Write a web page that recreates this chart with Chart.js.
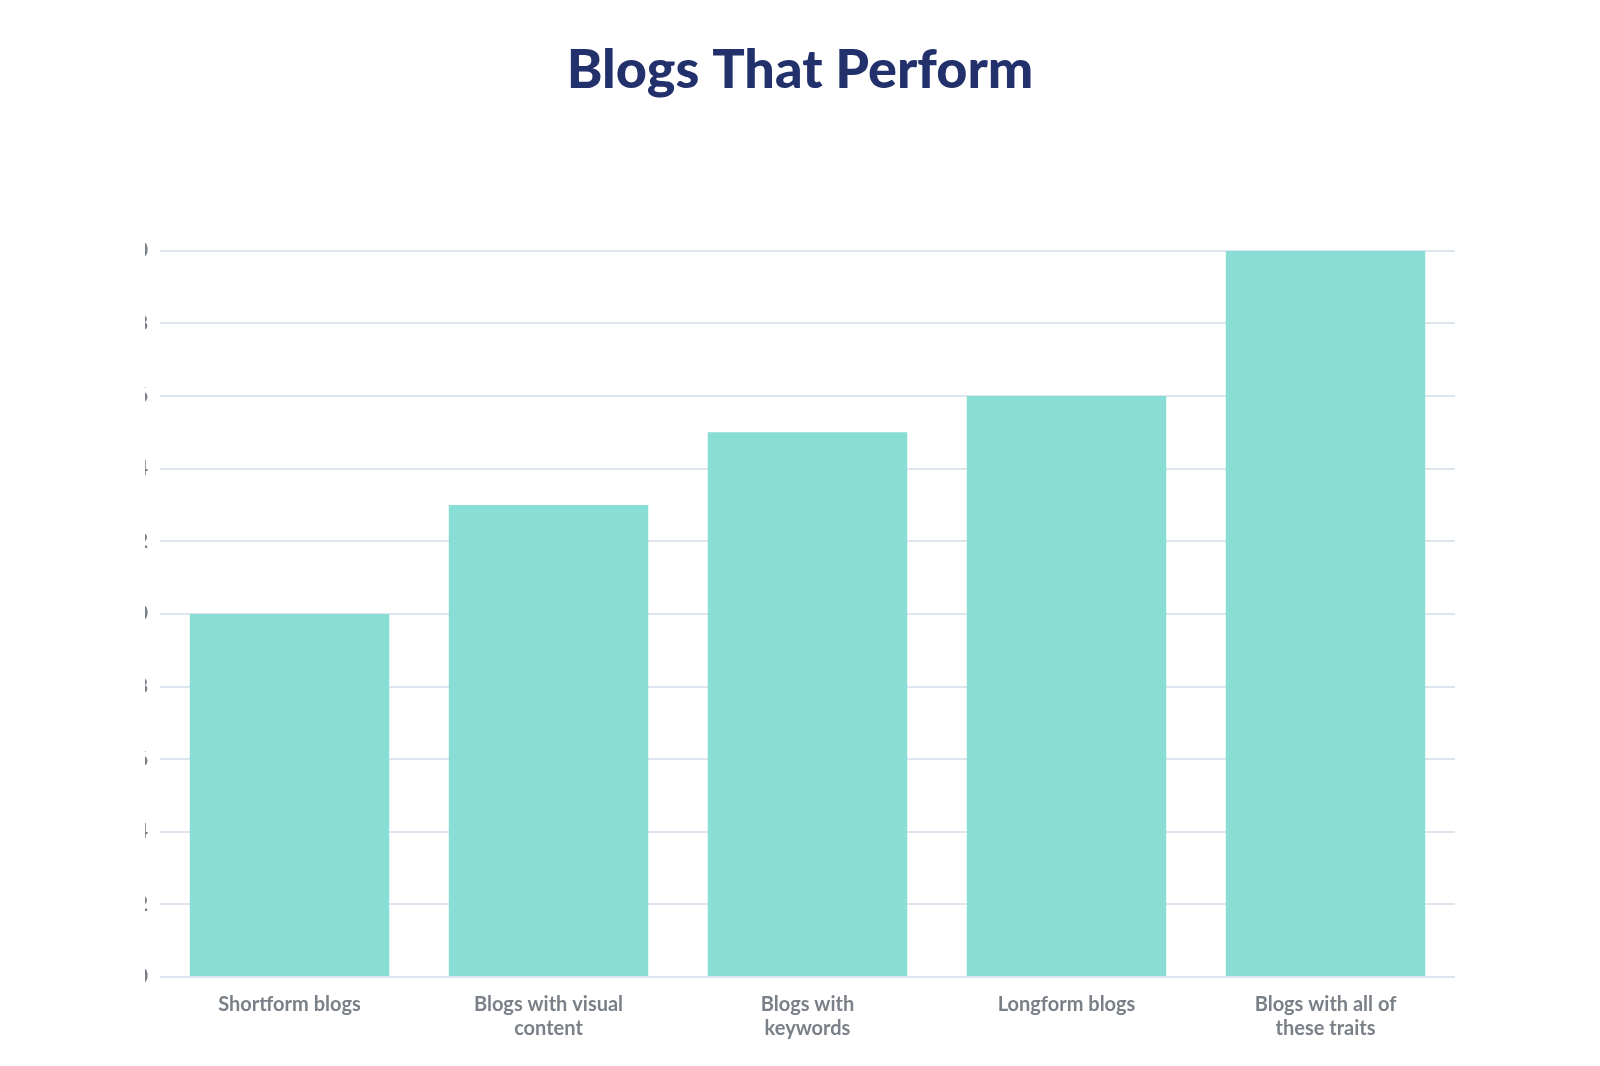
<!DOCTYPE html>
<html><head><script src="https://cdn.jsdelivr.net/npm/chart.js"></script>
<style>body{margin:0;background:#fff}#w{width:1600px;height:1066px}</style></head>
<body><div id="w"><canvas id="c"></canvas></div>
<script>
const categories=[["Shortform blogs"],["Blogs with visual","content"],["Blogs with","keywords"],["Longform blogs"],["Blogs with all of","these traits"]];
const values=[10,13,15,16,20];
new Chart(document.getElementById('c'),{
type:'bar',
data:{labels:categories,datasets:[{data:values,backgroundColor:'#88ddd4',categoryPercentage:0.77,barPercentage:1}]},
options:{responsive:true,maintainAspectRatio:false,animation:false,
layout:{padding:{left:145,right:145,top:38,bottom:17}},
plugins:{legend:{display:false},tooltip:{enabled:false},
title:{display:true,text:'Blogs That Perform',color:'#22306b',font:{family:'Lato',size:54,weight:'900'},padding:{top:0,bottom:148}}},
scales:{
x:{grid:{display:false},border:{display:false},ticks:{color:'#7a8088',font:{family:'Lato',size:20,weight:'bold'},maxRotation:0,padding:8}},
y:{min:0,max:20,afterFit:s=>{s.width=15;},ticks:{stepSize:2,color:'#7a8088',font:{family:'Lato',size:20,weight:'bold'},padding:12},
grid:{color:'#dde6ee',lineWidth:2,drawTicks:false},border:{display:false}}}}
});
</script></body></html>
